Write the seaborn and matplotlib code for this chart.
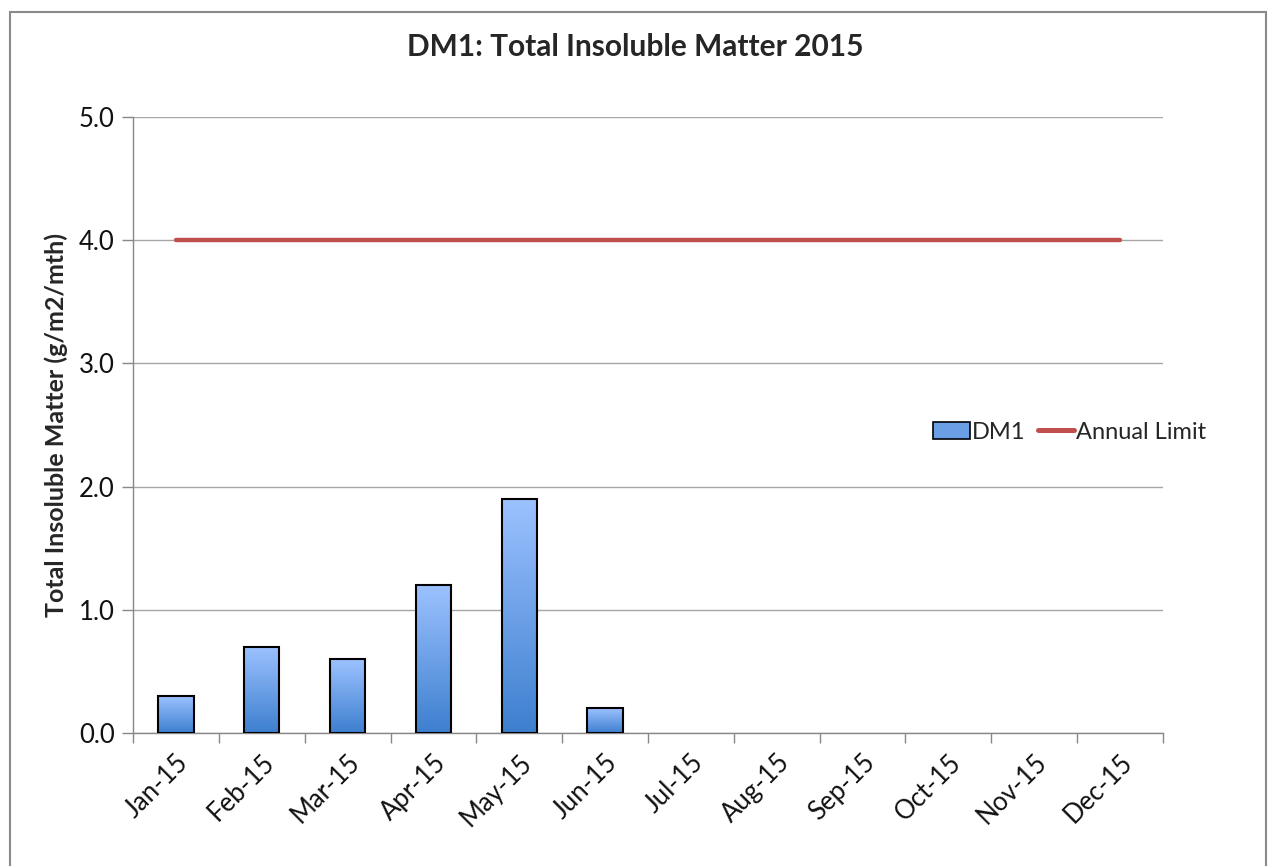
import numpy as np
import pandas as pd
import matplotlib
matplotlib.use("Agg")
import matplotlib.pyplot as plt
import seaborn as sns
from matplotlib.patches import Patch, Rectangle
from matplotlib.lines import Line2D
from matplotlib.colors import LinearSegmentedColormap

# Data
months = ["Jan-15", "Feb-15", "Mar-15", "Apr-15", "May-15", "Jun-15",
          "Jul-15", "Aug-15", "Sep-15", "Oct-15", "Nov-15", "Dec-15"]
dm1 = [0.3, 0.7, 0.6, 1.2, 1.9, 0.2,
       np.nan, np.nan, np.nan, np.nan, np.nan, np.nan]
annual_limit = [4.0] * 12

title = "DM1: Total Insoluble Matter 2015"
ylabel = "Total Insoluble Matter (g/m2/mth)"

sns.set_theme(style="white")
plt.rcParams["font.family"] = ["Lato", "DejaVu Sans"]

df = pd.DataFrame({"month": months, "DM1": dm1})

fig = plt.figure(figsize=(12.7, 8.66), dpi=100)
ax = fig.add_axes([133 / 1270, 1 - 733 / 866, (1163 - 133) / 1270, (733 - 117) / 866])

sns.barplot(data=df, x="month", y="DM1", order=months, color="#6a9fe6",
            width=0.41, edgecolor="black", linewidth=1.5, ax=ax)

# gradient fill for bars (light top, darker bottom)
grad_cmap = LinearSegmentedColormap.from_list("bar_grad", ["#3d7fcf", "#9cc2ff"])
grad = np.linspace(0, 1, 256).reshape(-1, 1)
for bar in list(ax.patches):
    h = bar.get_height()
    if not np.isfinite(h) or h == 0:
        continue
    x0 = bar.get_x()
    w = bar.get_width()
    bar.set_facecolor("none")
    bar.set_zorder(3)
    im = ax.imshow(grad, cmap=grad_cmap, origin="lower", aspect="auto",
                   extent=[x0, x0 + w, 0, h], zorder=2.5)
    im.set_clip_path(bar)

sns.lineplot(x=np.arange(len(months)), y=annual_limit, color="#c0504d",
             linewidth=3.2, ax=ax, zorder=4)

ax.set_xlim(-0.5, len(months) - 0.5)
ax.set_ylim(0, 5)
ax.set_yticks(np.arange(0, 5.01, 1.0))
ax.set_yticklabels([f"{v:.1f}" for v in np.arange(0, 5.01, 1.0)], fontsize=18.5)
ax.set_xticks(np.arange(len(months)))
ax.set_xticklabels(months, rotation=45, ha="right", rotation_mode="anchor", fontsize=18.5)
ax.set_xticks(np.arange(-0.5, len(months), 1.0), minor=True)
ax.tick_params(axis="x", which="major", length=0, pad=12)
ax.tick_params(axis="x", which="minor", length=7, width=1, color="#888888", direction="out", bottom=True)
ax.tick_params(axis="y", length=8, width=1, color="#888888", direction="out", left=True, pad=5)
for lbl in ax.get_xticklabels() + ax.get_yticklabels():
    lbl.set_color("#111111")

ax.grid(axis="y", color="#a6a6a6", linewidth=1)
ax.set_axisbelow(True)
for side in ["top", "right"]:
    ax.spines[side].set_visible(False)
for side in ["left", "bottom"]:
    ax.spines[side].set_color("#888888")
    ax.spines[side].set_linewidth(1)

ax.set_xlabel("")
ax.set_ylabel(ylabel, fontsize=18, fontweight="bold", labelpad=8)
fig.text(0.5, 1 - 47 / 866, title, ha="center", va="center", fontsize=21.5, fontweight="bold")

handles = [Patch(facecolor="#6a9fe6", edgecolor="black", linewidth=1.2),
           Line2D([0], [0], color="#c0504d", linewidth=3.6)]
fig.legend(handles, ["DM1", "Annual Limit"], loc="center left",
           bbox_to_anchor=(912 / 1270, 1 - 432 / 866), ncol=2, frameon=False,
           fontsize=17, handlelength=1.55, handletextpad=0.1, columnspacing=0.5)

# outer chart border
fig.patches.append(Rectangle((10 / 1270, -0.05), (1266 - 10) / 1270, 1.05 - 12 / 866,
                             transform=fig.transFigure, fill=False,
                             edgecolor="#8a8a8a", linewidth=1.5))

fig.savefig("out.png", dpi=100)
